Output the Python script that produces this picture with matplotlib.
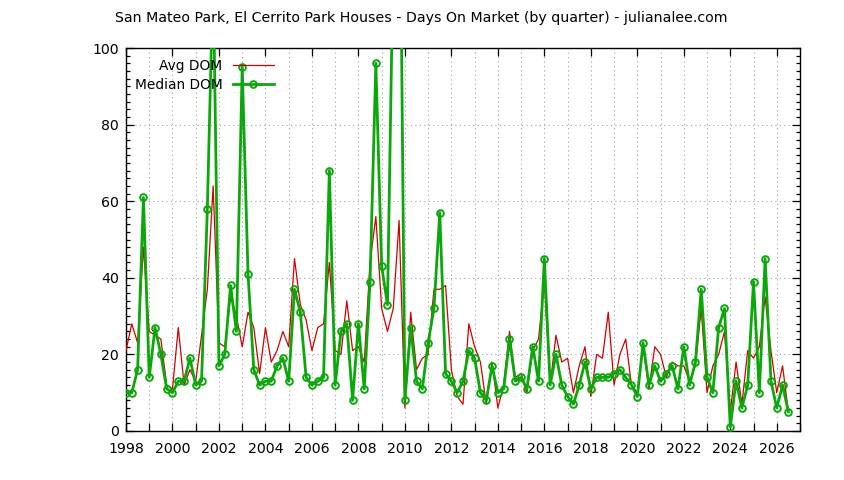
import numpy as np
import matplotlib
matplotlib.use("Agg")
import matplotlib.pyplot as plt
from matplotlib.ticker import MultipleLocator

# quarterly series, first quarter = 1998 Q1
start_year = 1998
avg_dom = [
    21, 28, 23, 48, 26, 25, 24, 12, 11, 27, 12, 16, 13, 25, 37,
    64,
    23, 22, 35, 30, 22, 31, 27, 15, 27, 18, 21, 26, 22,
    45, 33, 29, 21, 27, 28, 44, 21, 20, 34, 21, 22, 18, 44, 56, 32, 26,
    32, 55,
    6, 31, 16, 19, 20, 37, 37, 38,
    16, 9, 7, 28, 22, 18, 7, 18, 6, 12, 26, 14, 15, 10, 21, 24, 39, 12,
    25, 18, 19, 10, 17, 22, 9, 20, 19, 31, 12, 20, 24,
    12, 10, 22, 11, 22, 20, 14, 18, 17, 17, 13, 17, 32, 10, 17, 20, 26,
    5, 18, 7, 21, 19, 22, 35, 21, 10, 17, 5,
]
median_dom = [
    10, 10, 16, 61, 14, 27, 20, 11, 10, 13, 13, 19, 12, 13, 58,
    120,
    17, 20, 38, 26, 95, 41, 16, 12, 13, 13, 17, 19, 13,
    37, 31, 14, 12, 13, 14, 68, 12, 26, 28, 8, 28, 11, 39, 96, 43, 33,
    125, 170,
    8, 27, 13, 11, 23, 32, 57, 15,
    13, 10, 13, 21, 19, 10, 8, 17, 10, 11, 24, 13, 14, 11, 22, 13, 45, 12,
    20, 12, 9, 7, 12, 18, 11, 14, 14, 14, 15, 16, 14,
    12, 9, 23, 12, 17, 13, 15, 17, 11, 22, 12, 18, 37, 14, 10, 27, 32,
    1, 13, 6, 12, 39, 10, 45, 13, 6, 12, 5,
]
title = "San Mateo Park, El Cerrito Park Houses - Days On Market (by quarter) - julianalee.com"

x = start_year + np.arange(len(avg_dom)) / 4.0

plt.rcParams["font.family"] = "DejaVu Sans"
plt.rcParams["font.size"] = 10.2

fig = plt.figure(figsize=(8.44, 4.8), dpi=100)
ax = fig.add_axes([126 / 844, 1 - 431 / 480, 674 / 844, 383 / 480])

red = "#d40000"
green = "#0aa80a"

l1, = ax.plot(x, avg_dom, color=red, lw=0.9, zorder=3)
l2, = ax.plot(x, median_dom, color=green, lw=2.0, marker="o", ms=4.8,
              mfc="none", mec=green, mew=1.4, zorder=4)

ax.set_xlim(1998, 2027)
ax.set_ylim(0, 100)
ax.xaxis.set_major_locator(MultipleLocator(2))
ax.xaxis.set_minor_locator(MultipleLocator(1))
ax.yaxis.set_major_locator(MultipleLocator(20))
ax.yaxis.set_minor_locator(MultipleLocator(2))

ax.tick_params(which="both", direction="in", color="black", width=0.9)
ax.tick_params(which="major", length=6, top=True, right=True, pad=5,
               labelsize=10.2)
ax.tick_params(axis="x", which="major", pad=8)
ax.tick_params(axis="x", which="minor", length=6, top=False)
ax.tick_params(axis="y", which="minor", length=3, right=True)

ax.grid(which="both", axis="x", color="#a0a0a0", lw=0.8, ls=(0, (1, 3)))
ax.grid(which="major", axis="y", color="#a0a0a0", lw=0.8, ls=(0, (1, 3)))
for s in ax.spines.values():
    s.set_linewidth(1.0)

leg_kw = dict(loc="center right", frameon=False, markerfirst=False,
              handlelength=3.0, handletextpad=0.75, borderpad=0,
              borderaxespad=0, numpoints=1, fontsize=9.9)
leg1 = ax.legend([l1], ["Avg DOM"], bbox_to_anchor=(0.2196, 0.953), **leg_kw)
ax.add_artist(leg1)
ax.legend([l2], ["Median DOM"], bbox_to_anchor=(0.2196, 0.903), **leg_kw)

fig.text(0.4994, 1 - 18 / 480, title, ha="center", va="center")

fig.savefig("out.png", dpi=100)
